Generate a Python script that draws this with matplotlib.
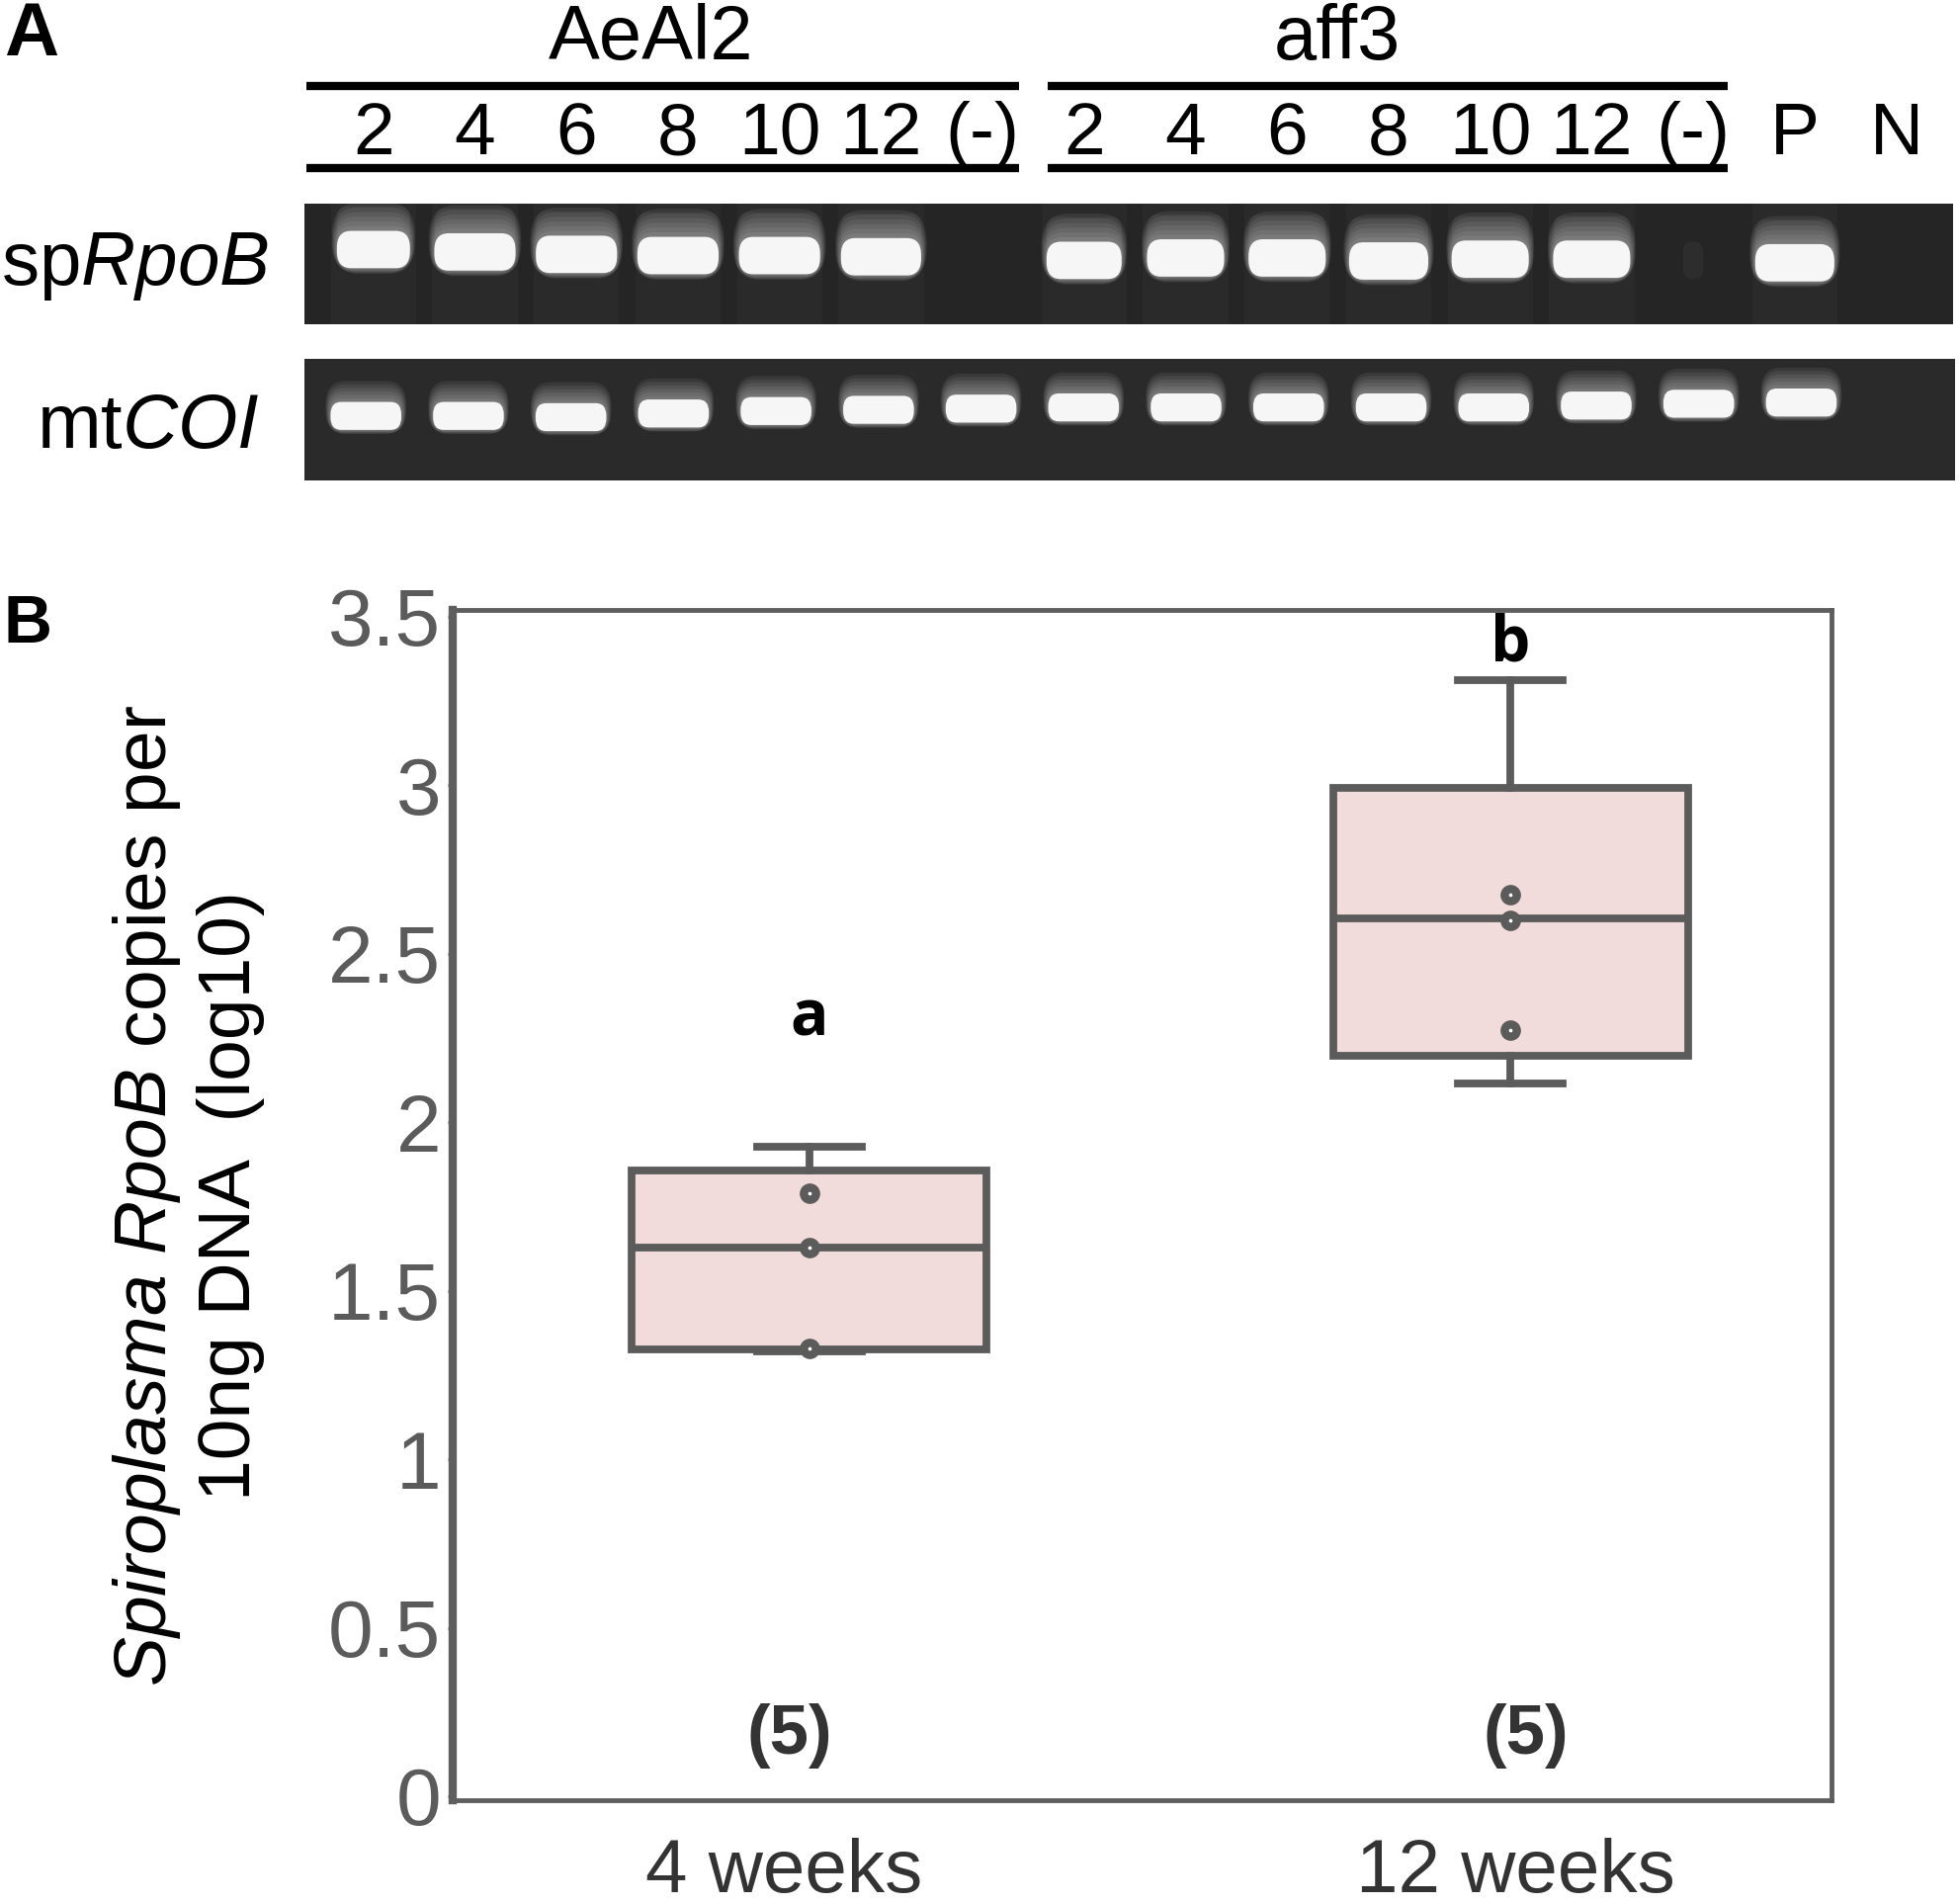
import numpy as np
import matplotlib
matplotlib.use('Agg')
import matplotlib.pyplot as plt
import matplotlib.patches as mpatches
import matplotlib.ticker as ticker
import matplotlib.transforms as mtransforms
from matplotlib import font_manager

plt.rcParams.update({
    'font.family': ['Liberation Sans', 'DejaVu Sans'],
    'mathtext.fontset': 'custom',
    'mathtext.rm': 'Liberation Sans',
    'mathtext.it': 'Liberation Sans:italic',
    'mathtext.bf': 'Liberation Sans:bold',
})

installed = {f.name for f in font_manager.fontManager.ttflist}
NARROW = 'Liberation Sans Narrow' if 'Liberation Sans Narrow' in installed else 'Liberation Sans'
LETTER_FONT = 'Open Sans' if 'Open Sans' in installed else 'Liberation Sans'

# ---- panel A: gel lanes ----
lane_labels = ['2', '4', '6', '8', '10', '12', '(-)',
               '2', '4', '6', '8', '10', '12', '(-)', 'P', 'N']
group_names = ['AeAl2', 'aff3']
group_label_x = [2.73, 9.49]
group_bar_span = [(-0.66, 6.36), (6.64, 13.34)]

# band brightness (0 = no band) and vertical position (fraction of gel height from top)
rpob_intensity = [1, 1, 1, 1, 1, 1, 0, 1, 1, 1, 1, 1, 1, 0.04, 1, 0]
rpob_y = [0.38, 0.40, 0.42, 0.43, 0.43, 0.44, 0.45, 0.47, 0.45, 0.45,
          0.475, 0.46, 0.46, 0.47, 0.49, 0.49]
rpob_width = [0.72, 0.80, 0.80, 0.80, 0.80, 0.79, 0.78, 0.74, 0.76, 0.76,
              0.78, 0.76, 0.76, 0.20, 0.78, 0.78]
coi_intensity = [1, 1, 1, 1, 1, 1, 1, 1, 1, 1, 1, 1, 1, 1, 1, 0]
coi_y = [0.47, 0.47, 0.48, 0.45, 0.43, 0.42, 0.41, 0.40, 0.40, 0.40,
         0.40, 0.40, 0.385, 0.37, 0.36, 0.36]

# ---- panel B: boxplot ----
weeks = ['4 weeks', '12 weeks']
whisker_low = [1.32, 2.115]
q1 = [1.326, 2.196]
median = [1.627, 2.604]
q3 = [1.857, 2.993]
whisker_high = [1.927, 3.311]
points = [[1.790, 1.627, 1.330], [2.675, 2.600, 2.274]]
letters = ['a', 'b']
letter_y = [2.307, 3.418]
n_labels = ['(5)', '(5)']
n_label_y = 0.18

EDGE = '#5b5b5b'
BOX_FILL = '#f1dbdb'

fig = plt.figure(figsize=(19.83, 19.26), dpi=100)


def draw_gel(ax, intensity, ypos, widths, band_h, bg, xlim, streaks):
    ax.set_facecolor(bg)
    ax.set_xlim(*xlim)
    ax.set_ylim(1, 0)
    for lane, (inten, y, w) in enumerate(zip(intensity, ypos, widths)):
        if inten <= 0:
            continue
        if streaks:
            ax.add_patch(mpatches.Rectangle((lane - 0.42, 0), 0.84, 1, color='white',
                                            alpha=0.025 * inten, lw=0))
            ax.add_patch(mpatches.FancyBboxPatch(
                (lane - w * 0.5, y - 0.36), w, 0.36,
                boxstyle='round,pad=0,rounding_size=0.1',
                fc='white', ec='none', alpha=0.05 * inten))
        # soft glow, denser towards the core, reaching further upwards
        for k in range(6):
            f = 1 - k / 6
            ww = w * (1 + 0.14 * f)
            hh = band_h * (1 + 0.9 * f)
            y0 = y - hh / 2 - 0.3 * f * band_h
            ax.add_patch(mpatches.FancyBboxPatch(
                (lane - ww / 2, y0), ww, hh,
                boxstyle=f'round,pad=0,rounding_size={min(ww, hh) * 0.45:.3f}',
                fc='white', ec='none', alpha=0.07 * inten))
        ax.add_patch(mpatches.FancyBboxPatch(
            (lane - w / 2, y - band_h / 2), w, band_h,
            boxstyle=f'round,pad=0,rounding_size={min(w, band_h) * 0.45:.3f}',
            fc='#fbfbfb', ec='none', alpha=0.97 * inten))
    ax.set_xticks([])
    ax.set_yticks([])
    for s in ax.spines.values():
        s.set_visible(False)


gel1_xlim = (-0.68, 15.56)
ax_gel1 = fig.add_axes([0.1553, 0.8297, 0.8412, 0.0633])
draw_gel(ax_gel1, rpob_intensity, rpob_y, rpob_width, 0.31, '#252525', gel1_xlim, True)

ax_gel2 = fig.add_axes([0.1553, 0.7477, 0.8422, 0.0639])
draw_gel(ax_gel2, coi_intensity, coi_y, [0.69] * 16, 0.23, '#2a2a2a', (-0.6, 15.5), False)

# header with group names, bars and lane numbers
ax_head = fig.add_axes([0.1553, 0.8962, 0.8412, 0.1038])
ax_head.set_xlim(*gel1_xlim)
ax_head.set_ylim(200, 0)
ax_head.axis('off')
for name, gx, (x0, x1) in zip(group_names, group_label_x, group_bar_span):
    ax_head.text(gx, 40, name, ha='center', va='center', fontsize=56)
    ax_head.hlines([87, 170], x0, x1, colors='black', lw=6)
for lane, lab in enumerate(lane_labels):
    ax_head.text(lane, 137, lab, ha='center', va='center', fontsize=54)

fig.text(4 / 1983, 1 - 36 / 1926, 'A', ha='left', va='center', fontsize=55, fontweight='bold')
fig.text(272 / 1983, 1 - 270 / 1926, r'sp$\mathit{RpoB}$', ha='right', va='center', fontsize=55)
fig.text(263 / 1983, 1 - 432 / 1926, r'mt$\mathit{COI}$', ha='right', va='center', fontsize=56)

# ---- panel B ----
ax = fig.add_axes([0.231, 0.0545, 0.7035, 0.6251])
positions = [1, 2]
stats = [dict(whislo=lo, q1=a, med=m, q3=b, whishi=hi, label=w)
         for lo, a, m, b, hi, w in zip(whisker_low, q1, median, q3, whisker_high, weeks)]
ax.bxp(stats, positions=positions, widths=0.506, capwidths=0.15, patch_artist=True,
       showfliers=False,
       boxprops=dict(facecolor=BOX_FILL, edgecolor=EDGE, linewidth=5.6),
       medianprops=dict(color=EDGE, linewidth=5.6),
       whiskerprops=dict(color=EDGE, linewidth=5.6),
       capprops=dict(color=EDGE, linewidth=5.6))
for pos, pts in zip(positions, points):
    ax.plot([pos] * len(pts), pts, 'o', ms=8.9, mfc='white', mec=EDGE, mew=6.0, zorder=5)
for pos, lab, ly in zip(positions, letters, letter_y):
    ax.text(pos, ly, lab, ha='center', va='center', fontsize=46, fontweight='bold',
            family=LETTER_FONT, color='black')
for pos, lab, dx in zip(positions, n_labels, [-0.028, 0.022]):
    ax.text(pos + dx, n_label_y, lab, ha='center', va='center', fontsize=51,
            fontweight='bold', family=NARROW, color='#333333')

ax.set_xlim(0.4915, 2.458)
ax.set_ylim(-0.012, 3.52)
ax.yaxis.set_major_locator(ticker.MultipleLocator(0.5))
ax.yaxis.set_major_formatter(ticker.FuncFormatter(lambda v, _: f'{v:g}'))
ax.set_xticks(positions)
ax.set_xticklabels(weeks)
ax.tick_params(axis='y', length=3.6, width=2, color='#777777', labelsize=59,
               labelcolor='#5b5b5b', pad=5)
ax.tick_params(axis='x', length=0, labelsize=55, labelcolor='#333333', pad=27)
for lab, dx in zip(ax.get_xticklabels(), [-0.26, 0.05]):
    lab.set_transform(lab.get_transform()
                      + mtransforms.ScaledTranslation(dx, 0, fig.dpi_scale_trans))
for side, s in ax.spines.items():
    s.set_color('#5e5e5e')
    s.set_linewidth(6 if side == 'left' else 3.5)

fig.text(190 / 1983, 1 - 1210 / 1926,
         '$\\mathit{Spiroplasma}$ $\\mathit{RpoB}$ copies per\n10ng DNA  (log10)',
         rotation=90, ha='center', va='center', multialignment='center',
         fontsize=54, linespacing=1.25)
fig.text(4 / 1983, 1 - 632 / 1926, 'B', ha='left', va='center', fontsize=49, fontweight='bold')

fig.savefig('out.png', dpi=100)
